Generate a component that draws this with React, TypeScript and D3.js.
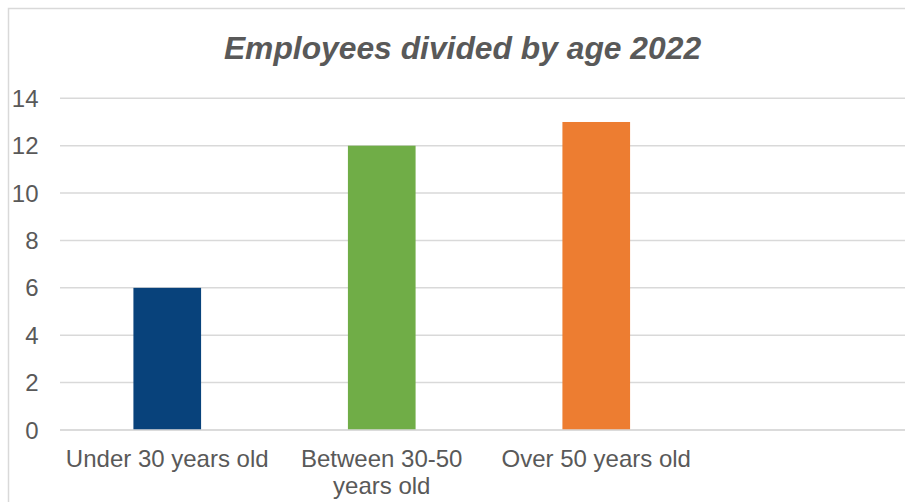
import React, { useEffect, useRef } from "react";
import * as d3 from "d3";

const categories = ["Under 30 years old", "Between 30-50 years old", "Over 50 years old", ""];
const values: (number | null)[] = [6, 12, 13, null];
const barColors = ["#08427B", "#70AD47", "#ED7D31", "#A5A5A5"];
const yTicks = [0, 2, 4, 6, 8, 10, 12, 14];
const title = "Employees divided by age 2022";

export default function App() {
  const ref = useRef<SVGSVGElement | null>(null);

  useEffect(() => {
    const svg = d3.select(ref.current);
    svg.selectAll("*").remove();
    const W = 905, H = 502;
    const left = 60, right = 918, top = 98.3, bottom = 430;
    const font = "'Liberation Sans', Arial, sans-serif";
    const textColor = "#595959";
    const grid = "#d9d9d9";

    svg.append("rect").attr("x", 0).attr("y", 0).attr("width", W).attr("height", H).attr("fill", "#fff");
    svg.append("rect").attr("x", 8.5).attr("y", 8.5).attr("width", 1000).attr("height", 600)
      .attr("fill", "#fff").attr("stroke", grid).attr("stroke-width", 1.5);

    svg.append("text").attr("x", 462.5).attr("y", 58.5).attr("text-anchor", "middle")
      .attr("font-family", font).attr("font-size", 31.8).attr("font-weight", "bold")
      .attr("font-style", "italic").attr("fill", textColor).text(title);

    const x = d3.scaleBand<string>().domain(categories.map((c, i) => String(i))).range([left, right]).paddingInner(0).paddingOuter(0);
    const y = d3.scaleLinear().domain([0, 14]).range([bottom, top]);

    const gGrid = svg.append("g");
    yTicks.forEach((t) => {
      gGrid.append("line").attr("x1", left).attr("x2", right).attr("y1", y(t)).attr("y2", y(t))
        .attr("stroke", grid).attr("stroke-width", 1.5);
      svg.append("text").attr("x", 38.5).attr("y", y(t)).attr("dy", "0.36em").attr("text-anchor", "end")
        .attr("font-family", font).attr("font-size", 24).attr("fill", textColor).text(String(t));
    });

    const bw = x.bandwidth();
    const barW = bw / 3.17;
    categories.forEach((c, i) => {
      const v = values[i];
      const cx = (x(String(i)) as number) + bw / 2;
      if (v != null) {
        svg.append("rect").attr("x", cx - barW / 2).attr("y", y(v)).attr("width", barW)
          .attr("height", y(0) - y(v)).attr("fill", barColors[i]);
      }
      if (c) {
        const t = svg.append("text").attr("x", cx).attr("y", 466.5).attr("text-anchor", "middle")
          .attr("font-family", font).attr("font-size", 24).attr("fill", textColor);
        const words = c.split(" ");
        let line: string[] = [];
        let tspan = t.append("tspan").attr("x", cx).attr("dy", 0);
        for (const w of words) {
          line.push(w);
          tspan.text(line.join(" "));
          const node = tspan.node() as SVGTSpanElement;
          if (node.getComputedTextLength() > 208 && line.length > 1) {
            line.pop();
            tspan.text(line.join(" "));
            line = [w];
            tspan = t.append("tspan").attr("x", cx).attr("dy", 27.5).text(w);
          }
        }
      }
    });
    svg.append("line").attr("x1", left).attr("x2", right).attr("y1", y(0)).attr("y2", y(0))
      .attr("stroke", grid).attr("stroke-width", 1.5);
  }, []);

  return (
    <svg ref={ref} width={905} height={502}
      style={{ position: "absolute", left: 0, top: 0, display: "block" }} />
  );
}
